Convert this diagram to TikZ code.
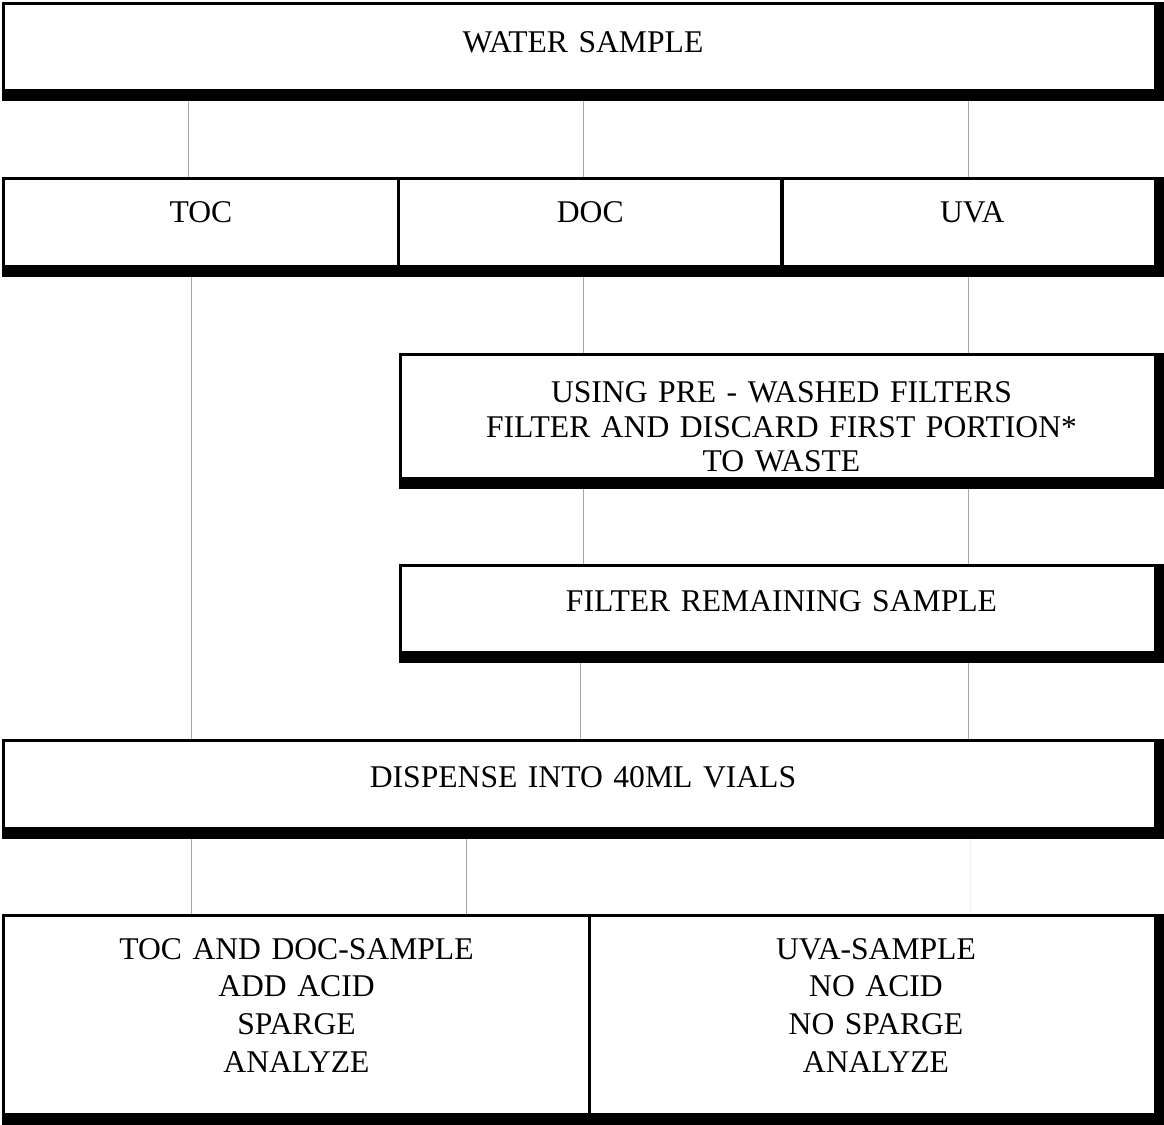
\documentclass[tikz,border=0pt]{standalone}
\usepackage{fontspec}
\setmainfont{Liberation Serif}

\begin{document}
\begin{tikzpicture}[x=0.02cm, y=-0.02cm,
  box/.style={draw, line width=0.06cm, inner sep=0pt, align=center,
    anchor=base, font=\fontsize{18}{19.5}\selectfont,
    path picture={\fill (path picture bounding box.south west)
      rectangle ([yshift=0.21cm]path picture bounding box.south east);}},
  endbox/.style={box,
    path picture={\fill (path picture bounding box.south west)
      rectangle ([yshift=0.21cm]path picture bounding box.south east);
      \fill ([xshift=-0.17cm]path picture bounding box.north east)
      rectangle (path picture bounding box.south east);}},
  link/.style={gray!70, line width=0.02cm}
]
  \useasboundingbox (0,0) rectangle (1164,1125);

  \node[endbox, text width=23.18cm, text height=0.99cm, text depth=0.93cm]
    (water) at (583,53) {WATER SAMPLE};

  \node[box, text width=7.9cm, text height=0.89cm, text depth=1.05cm]
    (toc) at (201,223) {TOC};
  \node[box, text width=7.67cm, text height=0.89cm, text depth=1.05cm]
    (doc) at (590.25,223) {DOC};
  \node[endbox, text width=7.61cm, text height=0.89cm, text depth=1.05cm]
    (uva) at (972.25,223) {UVA};

  \node[endbox, text width=15.24cm, text height=0.97cm, text depth=1.69cm]
    (wash) at (781.5,403)
    {USING PRE - WASHED FILTERS\\FILTER AND DISCARD FIRST PORTION*\\TO WASTE};
  \node[endbox, text width=15.24cm, text height=0.91cm, text depth=1.01cm]
    (rest) at (781.5,611) {FILTER REMAINING SAMPLE};

  \node[endbox, text width=23.18cm, text height=0.93cm, text depth=1.01cm]
    (vials) at (583,787) {DISPENSE INTO 40ML VIALS};

  \node[box, text width=11.72cm, text height=0.87cm, text depth=3.29cm,
    font=\fontsize{18}{21.5}\selectfont]
    (acid) at (296.5,959) {TOC AND DOC-SAMPLE\\ADD ACID\\SPARGE\\ANALYZE};
  \node[endbox, text width=11.46cm, text height=0.87cm, text depth=3.29cm,
    font=\fontsize{18}{21.5}\selectfont]
    (noacid) at (876,959) {UVA-SAMPLE\\NO ACID\\NO SPARGE\\ANALYZE};

  \coordinate (a1) at (188,0);
  \coordinate (a2) at (583,0);
  \coordinate (a3) at (968,0);
  \coordinate (b1) at (191,0);
  \coordinate (b2) at (580,0);
  \coordinate (b3) at (466,0);
  \coordinate (b4) at (970,0);

  \draw[link] (water.south -| a1) -- (toc.north -| a1);
  \draw[link] (water.south -| a2) -- (doc.north -| a2);
  \draw[link] (water.south -| a3) -- (uva.north -| a3);
  \draw[link] (toc.south -| b1) -- (vials.north -| b1);
  \draw[link] (doc.south -| a2) -- (wash.north -| a2);
  \draw[link] (uva.south -| a3) -- (wash.north -| a3);
  \draw[link] (wash.south -| a2) -- (rest.north -| a2);
  \draw[link] (wash.south -| a3) -- (rest.north -| a3);
  \draw[link] (rest.south -| b2) -- (vials.north -| b2);
  \draw[link] (rest.south -| a3) -- (vials.north -| a3);
  \draw[link] (vials.south -| b1) -- (acid.north -| b1);
  \draw[link] (vials.south -| b3) -- (acid.north -| b3);
  \draw[link, gray!12] (vials.south -| b4) -- (noacid.north -| b4);
\end{tikzpicture}
\end{document}
